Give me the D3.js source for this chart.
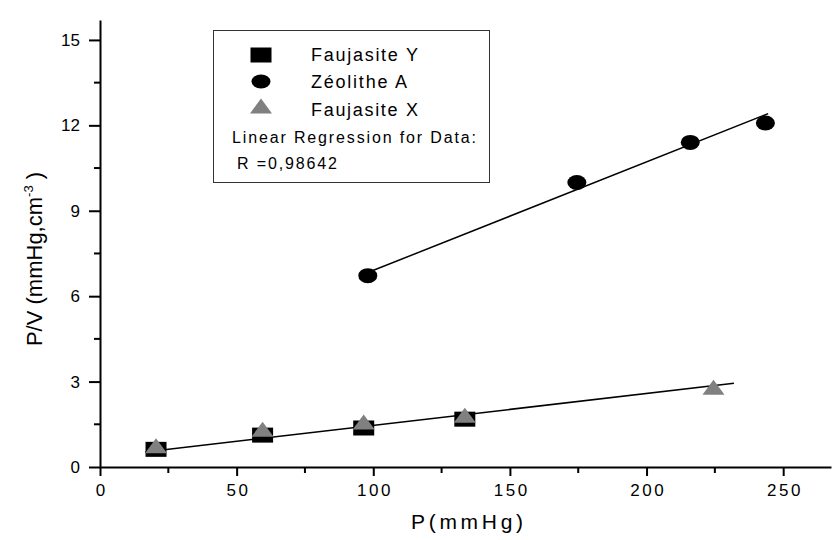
<!DOCTYPE html>
<html>
<head>
<meta charset="utf-8">
<script src="https://cdn.jsdelivr.net/npm/d3@7"></script>
<style>
  html, body { margin: 0; padding: 0; background: #fff; }
  svg { display: block; font-family: "Liberation Sans", Arial, sans-serif; }
</style>
</head>
<body>
<svg id="chart" width="833" height="540"></svg>
<script>
// Measured points: pressure P (mmHg) vs P/V (mmHg.cm^-3)
const faujasiteY_P = [20.5, 59.5, 96.5, 133.5];
const faujasiteY_PV = [0.62, 1.12, 1.37, 1.68];

const zeoliteA_P = [98, 174.5, 216, 243.5];
const zeoliteA_PV = [6.72, 9.99, 11.4, 12.08];

const faujasiteX_P = [20.5, 59.5, 96.5, 133.5, 224.5];
const faujasiteX_PV = [0.75, 1.33, 1.58, 1.82, 2.8];

// Fitted regression lines (end points)
const fitLow_P = [16.5, 232];
const fitLow_PV = [0.53, 2.94];
const fitHigh_P = [98, 244.5];
const fitHigh_PV = [6.83, 12.41];

const xTicks = [0, 50, 100, 150, 200, 250];
const yTicks = [0, 3, 6, 9, 12, 15];
const legendLabels = ["Faujasite Y", "Zéolithe A", "Faujasite X"];
const regressionTitle = "Linear Regression for Data:";
const regressionR = "R =0,98642";

const svg = d3.select("#chart");
const x = d3.scaleLinear().domain([0, 267.5]).range([100, 831]);
const y = d3.scaleLinear().domain([0, 15.7]).range([467, 20]);

// Axes
const xAxis = svg.append("g").attr("transform", `translate(0,${y(0)})`)
  .call(d3.axisBottom(x).tickValues(xTicks).tickSize(9).tickSizeOuter(0).tickPadding(8));
const yAxis = svg.append("g").attr("transform", `translate(${x(0)},0)`)
  .call(d3.axisLeft(y).tickValues(yTicks).tickSize(11).tickSizeOuter(0).tickPadding(9));
[xAxis, yAxis].forEach(g => {
  g.select(".domain").attr("stroke", "#000").attr("stroke-width", 2);
  g.selectAll(".tick line").attr("stroke", "#000").attr("stroke-width", 2);
  g.selectAll(".tick text").attr("fill", "#000").style("font-size", "17px")
    .style("font-family", "'Liberation Sans', Arial, sans-serif");
});
xAxis.selectAll(".tick text").style("letter-spacing", "2.5px").attr("dx", 1.25);
// minor ticks
const xMinor = d3.range(25, 267, 50);
const yMinor = d3.range(1.5, 15.7, 3);
svg.append("g").selectAll("line").data(xMinor).join("line")
  .attr("x1", d => x(d)).attr("x2", d => x(d))
  .attr("y1", y(0)).attr("y2", y(0) + 6)
  .attr("stroke", "#000").attr("stroke-width", 2);
svg.append("g").selectAll("line").data(yMinor).join("line")
  .attr("x1", x(0) - 6).attr("x2", x(0))
  .attr("y1", d => y(d)).attr("y2", d => y(d))
  .attr("stroke", "#000").attr("stroke-width", 2);

// Axis titles
svg.append("text").attr("x", 411).attr("y", 529)
  .attr("textLength", 112).attr("lengthAdjust", "spacing")
  .style("font-size", "21px").text("P(mmHg)");
const yt = svg.append("text").attr("transform", "translate(42,259) rotate(-90)")
  .attr("text-anchor", "middle").style("font-size", "22px");
yt.append("tspan").text("P/V (mmHg,cm");
yt.append("tspan").attr("dy", -9).style("font-size", "13px").text("-3");
yt.append("tspan").attr("dy", 9).text(" )");

// Regression lines
const line = d3.line().x(d => x(d[0])).y(d => y(d[1]));
[[fitLow_P, fitLow_PV], [fitHigh_P, fitHigh_PV]].forEach(([px, py]) => {
  svg.append("path").datum(px.map((v, i) => [v, py[i]]))
    .attr("d", line).attr("fill", "none").attr("stroke", "#000").attr("stroke-width", 1.5);
});

// Markers
const squareW = 21, squareH = 15;
svg.append("g").selectAll("rect").data(faujasiteY_P.map((v, i) => [v, faujasiteY_PV[i]])).join("rect")
  .attr("x", d => x(d[0]) - squareW / 2).attr("y", d => y(d[1]) - squareH / 2)
  .attr("width", squareW).attr("height", squareH).attr("fill", "#000");
svg.append("g").selectAll("ellipse").data(zeoliteA_P.map((v, i) => [v, zeoliteA_PV[i]])).join("ellipse")
  .attr("cx", d => x(d[0])).attr("cy", d => y(d[1]))
  .attr("rx", 9.5).attr("ry", 7.5).attr("fill", "#000");
const tri = (cx, cy, w, h) => `M${cx - w / 2},${cy + h / 2}L${cx},${cy - h / 2}L${cx + w / 2},${cy + h / 2}Z`;
svg.append("g").selectAll("path").data(faujasiteX_P.map((v, i) => [v, faujasiteX_PV[i]])).join("path")
  .attr("d", d => tri(x(d[0]), y(d[1]), 22, 15)).attr("fill", "#808080");

// Legend
const lg = svg.append("g");
lg.append("rect").attr("x", 213.5).attr("y", 30.5).attr("width", 276).attr("height", 152)
  .attr("fill", "#fff").attr("stroke", "#333").attr("stroke-width", 1);
lg.append("rect").attr("x", 261 - squareW / 2).attr("y", 55 - squareH / 2)
  .attr("width", squareW).attr("height", squareH).attr("fill", "#000");
lg.append("ellipse").attr("cx", 261).attr("cy", 81.5).attr("rx", 9.5).attr("ry", 7).attr("fill", "#000");
lg.append("path").attr("d", tri(261, 106, 22, 15)).attr("fill", "#808080");
const labelBase = [61, 88, 116];
const labelWidth = [107, 96, 107];
lg.selectAll("text.lab").data(legendLabels).join("text").attr("class", "lab")
  .attr("x", 311).attr("y", (d, i) => labelBase[i])
  .attr("textLength", (d, i) => labelWidth[i]).attr("lengthAdjust", "spacing")
  .style("font-size", "18px").text(d => d);
lg.append("text").attr("x", 232).attr("y", 143).style("font-size", "16px")
  .attr("textLength", 244).attr("lengthAdjust", "spacing").text(regressionTitle);
lg.append("text").attr("x", 237).attr("y", 169).style("font-size", "16px")
  .attr("textLength", 100).attr("lengthAdjust", "spacing").text(regressionR);
</script>
</body>
</html>
